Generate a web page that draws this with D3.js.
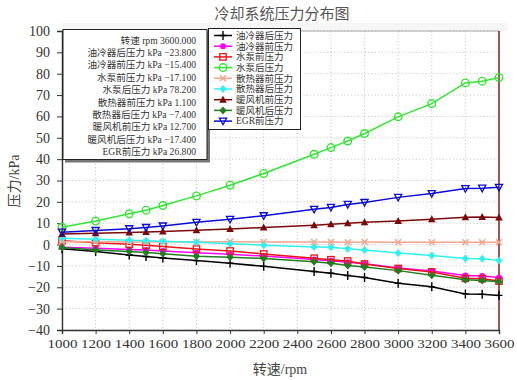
<!DOCTYPE html>
<html><head><meta charset="utf-8">
<script src="https://cdn.jsdelivr.net/npm/d3@7"></script>
<style>body{margin:0;background:#fff}svg{display:block}</style>
</head><body><svg id="chart" width="517" height="380"></svg>
<script>
// Engine speed (rpm) at each measured point
const rpm = [1000,1200,1400,1500,1600,1800,2000,2200,2500,2600,2700,2800,3000,3200,3400,3500,3600];

// Pressure readings, kPa
const oilCoolerOut = [-2.0,-3.2,-4.9,-5.6,-6.3,-7.5,-8.7,-10.2,-12.6,-13.4,-14.5,-15.4,-18.1,-19.8,-23.1,-23.3,-23.8];
const oilCoolerIn  = [-1.2,-1.7,-2.3,-2.6,-3.0,-3.8,-4.5,-5.4,-7.0,-7.6,-8.3,-9.0,-11.0,-12.4,-14.5,-14.7,-15.4];
const pumpIn       = [1.8,0.9,0.2,-0.3,-0.9,-2.1,-3.0,-4.4,-6.4,-7.1,-7.7,-9.1,-11.2,-12.8,-15.8,-16.0,-17.1];
const pumpOut      = [8.1,11.0,14.4,16.1,18.3,22.8,27.8,33.3,42.3,45.4,48.5,52.0,59.8,66.0,75.7,76.5,78.2];
const radiatorIn   = [1.3,1.3,1.2,1.2,1.3,1.2,1.3,1.2,1.2,1.2,1.1,1.2,1.1,1.1,1.1,1.1,1.1];
const radiatorOut  = [3.0,2.5,2.0,1.8,1.5,1.1,0.4,-0.3,-1.1,-1.3,-2.0,-2.5,-4.0,-5.1,-6.5,-6.6,-7.4];
const heaterIn     = [5.0,5.3,5.7,5.9,6.1,6.7,7.3,8.0,9.1,9.5,10.0,10.4,11.0,11.9,12.8,12.9,12.7];
const heaterOut    = [-1.4,-2.5,-3.3,-3.7,-4.3,-5.5,-5.9,-6.5,-8.0,-8.7,-9.8,-10.5,-12.2,-14.4,-16.5,-16.8,-17.4];
const egrIn        = [5.8,6.6,7.4,8.0,8.7,10.4,11.8,13.5,16.5,17.4,18.8,19.7,22.1,23.9,26.2,26.4,26.8];

const seriesNames = ["油冷器后压力","油冷器前压力","水泵前压力","水泵后压力","散热器前压力","散热器后压力","暖风机前压力","暖风机后压力","EGR前压力"];
const seriesValues = [oilCoolerOut, oilCoolerIn, pumpIn, pumpOut, radiatorIn, radiatorOut, heaterIn, heaterOut, egrIn];

const xTicks = [1000,1200,1400,1600,1800,2000,2200,2400,2600,2800,3000,3200,3400,3600];
const yTicks = [-40,-30,-20,-10,0,10,20,30,40,50,60,70,80,90,100];

const titleText = "冷却系统压力分布图";
const xLabel = "转速/rpm";
const yLabel = "压力/kPa";
const speedLabel = "转速";

// Line / marker styling per series
const styles = [
  {color:"#000000", marker:"plus"},
  {color:"#ff00ff", marker:"dot"},
  {color:"#e8161b", marker:"square"},
  {color:"#33e633", marker:"ring"},
  {color:"#f4a58e", marker:"cross"},
  {color:"#33f0f0", marker:"diamond"},
  {color:"#7a0a0a", marker:"triUp"},
  {color:"#1f7f1f", marker:"diamond"},
  {color:"#0a0ad2", marker:"triDown"}
];

const serif = "'Liberation Serif','DejaVu Serif','Noto Sans CJK SC',serif";
const svg = d3.select("#chart");
const L = 62, R = 499, T = 31, B = 330;

const x = d3.scaleLinear().domain([1000,3600]).range([L,R]);
const y = d3.scaleLinear().domain([-40,100]).range([B,T]);

// title
svg.append("text").attr("x",282).attr("y",19).attr("text-anchor","middle")
  .attr("font-family",serif).attr("font-size",15).attr("fill","#555").text(titleText);

// light band above plot area
svg.append("rect").attr("x",L).attr("y",T-8).attr("width",R-L+8).attr("height",8).attr("fill","#f6f6f6");

// grid
const grid = svg.append("g").attr("stroke","#c4c4c4").attr("stroke-width",0.9).attr("stroke-dasharray","1.2,2.2");
grid.selectAll("line.v").data(xTicks).join("line")
  .attr("x1",d=>x(d)).attr("x2",d=>x(d)).attr("y1",T).attr("y2",B);
grid.selectAll("line.h").data(yTicks).join("line")
  .attr("x1",L).attr("x2",R).attr("y1",d=>y(d)).attr("y2",d=>y(d));

// frame: top and right edges
svg.append("line").attr("x1",L).attr("x2",R).attr("y1",T).attr("y2",T).attr("stroke","#aaa").attr("stroke-width",1);
svg.append("line").attr("x1",R).attr("x2",R).attr("y1",T).attr("y2",B).attr("stroke","#8b1c1c").attr("stroke-width",1.5);

// axes
const fmtTick = d3.format("d");
const xAxis = svg.append("g").attr("transform",`translate(0,${B})`)
  .call(d3.axisBottom(x).tickValues(xTicks).tickFormat(fmtTick).tickSize(4).tickPadding(4));
const yAxis = svg.append("g").attr("transform",`translate(${L},0)`)
  .call(d3.axisLeft(y).tickValues(yTicks).tickSize(5).tickPadding(7));
[xAxis,yAxis].forEach(a=>{
  a.selectAll("text").attr("font-family",serif).attr("font-size",14).attr("fill","#333");
  a.selectAll("line").attr("stroke","#333");
  a.select(".domain").attr("stroke","#333").attr("stroke-width",1.4);
});
xAxis.selectAll("text").attr("font-size",13.5).attr("textLength",30).attr("lengthAdjust","spacingAndGlyphs");

// axis titles
svg.append("text").attr("x",280).attr("y",374).attr("text-anchor","middle")
  .attr("font-family",serif).attr("font-size",14).attr("fill","#444").text(xLabel);
svg.append("text").attr("transform","translate(19,181) rotate(-90)").attr("text-anchor","middle")
  .attr("font-family",serif).attr("font-size",14).attr("fill","#444").text(yLabel);

// marker drawing
function drawMarker(g, type, color){
  switch(type){
    case "plus": g.append("path").attr("d","M-3.5,0H3.5M0,-4.5V4.5").attr("stroke",color).attr("stroke-width",1.4).attr("fill","none"); break;
    case "dot": g.append("circle").attr("r",3).attr("fill",color); break;
    case "square": g.append("rect").attr("x",-3.2).attr("y",-3.2).attr("width",6.4).attr("height",6.4).attr("fill","none").attr("stroke",color).attr("stroke-width",1.3); break;
    case "ring": g.append("circle").attr("r",3.8).attr("fill","none").attr("stroke",color).attr("stroke-width",1.4); break;
    case "cross": g.append("path").attr("d","M-3,-3L3,3M-3,3L3,-3").attr("stroke",color).attr("stroke-width",1.5).attr("fill","none"); break;
    case "diamond": g.append("path").attr("d","M0,-4L3.6,0L0,4L-3.6,0Z").attr("fill",color); break;
    case "triUp": g.append("path").attr("d","M0,-4L3.8,3L-3.8,3Z").attr("fill",color); break;
    case "triDown": g.append("path").attr("d","M-3.6,-3L3.6,-3L0,3.6Z").attr("fill","none").attr("stroke",color).attr("stroke-width",1.3); break;
  }
}

// series lines and markers
const line = d3.line().x((d,i)=>x(rpm[i])).y(d=>y(d));
seriesValues.forEach((vals,k)=>{
  const st = styles[k];
  const g = svg.append("g");
  g.append("path").datum(vals).attr("d",line).attr("fill","none")
    .attr("stroke",st.color).attr("stroke-width",1.5);
  g.selectAll("g.m").data(vals).join("g")
    .attr("transform",(d,i)=>`translate(${x(rpm[i])},${y(d)})`)
    .each(function(){ drawMarker(d3.select(this), st.marker, st.color); });
});

// value readout box at the last speed point
const last = rpm.length - 1;
const fmt3 = d3.format(".3f");
const info = svg.append("g");
info.append("rect").attr("x",65).attr("y",31.5).attr("width",145).attr("height",131).attr("fill","#777");
info.append("rect").attr("x",63).attr("y",29.5).attr("width",144).attr("height",130).attr("fill","#fff").attr("stroke","#222").attr("stroke-width",1);
const infoLines = [`${speedLabel} rpm ${fmt3(rpm[last])}`].concat(seriesNames.map((n,k)=>`${n} kPa ${fmt3(seriesValues[k][last])}`));
info.selectAll("text").data(infoLines).join("text")
  .attr("x",196).attr("y",(d,i)=>43.5+i*12.4).attr("text-anchor","end")
  .attr("font-family",serif).attr("font-size",9.6).attr("fill","#333").text(d=>d);

// legend
const leg = svg.append("g");
leg.append("rect").attr("x",208.5).attr("y",28.5).attr("width",92).attr("height",101).attr("fill","#fff").attr("stroke","#222").attr("stroke-width",1);
seriesNames.forEach((n,k)=>{
  const yy = 35.5 + k*10.7;
  const st = styles[k];
  leg.append("line").attr("x1",214).attr("x2",232).attr("y1",yy).attr("y2",yy).attr("stroke",st.color).attr("stroke-width",1.5);
  drawMarker(leg.append("g").attr("transform",`translate(223,${yy})`), st.marker, st.color);
  leg.append("text").attr("x",236).attr("y",yy+3.3).attr("font-family",serif).attr("font-size",9.5).attr("fill","#333").text(n);
});
</script>
</body></html>
